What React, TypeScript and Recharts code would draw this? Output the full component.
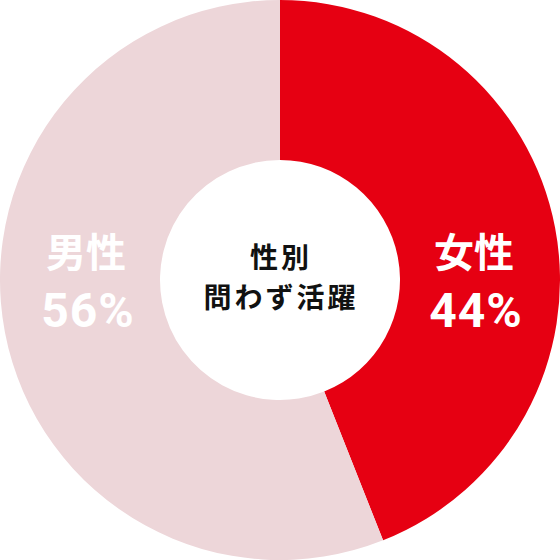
import React from 'react';
import { PieChart, Pie, Cell, Label } from 'recharts';

const genders = ['女性', '男性'];
const shares = [44, 56];
const sliceColors = ['#E60012', '#EDD6D9'];
const centerLines = ['性別', '問わず活躍'];

const data = genders.map((name, i) => ({ name, value: shares[i] }));

const FONT = '"Noto Sans CJK JP", "Noto Sans", sans-serif';
const NUM_FONT = 'Roboto, "Noto Sans", sans-serif';

const renderSliceLabel = (props: any) => {
  const { cx, cy, midAngle, payload } = props;
  // labels sit level with the centre, left or right of the hole
  const side = Math.cos((-midAngle * Math.PI) / 180) >= 0 ? 1 : -1;
  const x = cx + side * 194;
  return (
    <g>
      <text x={x} y={cy - 30} textAnchor="middle" dominantBaseline="central"
        fill="#FFFFFF" fontFamily={FONT} fontWeight={700} fontSize={40}>
        {payload.name}
      </text>
      <text x={x + 2} y={cy + 47} textAnchor="middle" fill="#FFFFFF"
        fontFamily={NUM_FONT} fontWeight={700} fontSize={48} letterSpacing={1}>
        {`${payload.value}%`}
      </text>
    </g>
  );
};

const renderCenter = (props: any) => {
  const vb = props.viewBox || {};
  const cx = vb.cx ?? 280;
  const cy = vb.cy ?? 280;
  return (
    <g>
      <text x={cx + 1} y={cy - 24} textAnchor="middle" dominantBaseline="central"
        fill="#111111" fontFamily={FONT} fontWeight={700} fontSize={28} letterSpacing={3}>
        {centerLines[0]}
      </text>
      <text x={cx + 1} y={cy + 16} textAnchor="middle" dominantBaseline="central"
        fill="#111111" fontFamily={FONT} fontWeight={700} fontSize={28} letterSpacing={3}>
        {centerLines[1]}
      </text>
    </g>
  );
};

export default function App() {
  return (
    <div style={{ position: 'absolute', top: 0, left: 0, width: 560, height: 560, background: '#fff' }}>
      <PieChart width={560} height={560} margin={{ top: 0, right: 0, bottom: 0, left: 0 }}>
        <Pie
          data={data}
          dataKey="value"
          nameKey="name"
          cx={280}
          cy={280}
          innerRadius={120}
          outerRadius={280}
          startAngle={90}
          endAngle={-270}
          stroke="none"
          labelLine={false}
          label={renderSliceLabel}
          isAnimationActive={false}
        >
          {data.map((d, i) => (
            <Cell key={d.name} fill={sliceColors[i]} />
          ))}
          <Label position="center" content={renderCenter} />
        </Pie>
      </PieChart>
    </div>
  );
}
